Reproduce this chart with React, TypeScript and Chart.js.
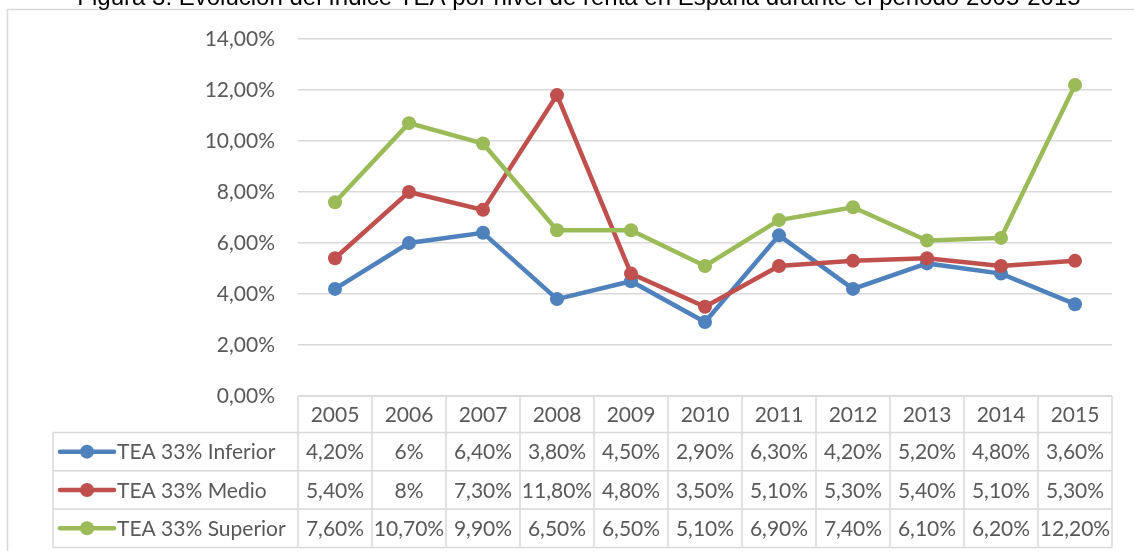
import React, { useEffect, useRef } from 'react';
import { Chart, registerables } from 'chart.js';

Chart.register(...registerables);

const titleText = 'Figura 3: Evolución del índice TEA por nivel de renta en España durante el periodo 2005-2015';
const years = ['2005', '2006', '2007', '2008', '2009', '2010', '2011', '2012', '2013', '2014', '2015'];
const inferior = [4.2, 6, 6.4, 3.8, 4.5, 2.9, 6.3, 4.2, 5.2, 4.8, 3.6];
const medio = [5.4, 8, 7.3, 11.8, 4.8, 3.5, 5.1, 5.3, 5.4, 5.1, 5.3];
const superior = [7.6, 10.7, 9.9, 6.5, 6.5, 5.1, 6.9, 7.4, 6.1, 6.2, 12.2];
const seriesNames = ['TEA 33% Inferior', 'TEA 33% Medio', 'TEA 33% Superior'];
const seriesValues = [inferior, medio, superior];
const seriesColors = ['#4F81BD', '#C0504D', '#9BBB59'];
const yMin = 0;
const yMax = 14;
const yStep = 2;

const TEXT_COLOR = '#595959';
const LINE_COLOR = '#D9D9D9';
const FONT = 'Lato, "Open Sans", sans-serif';
const FONT_SIZE = 21;

const fmtAxis = (v: number) => v.toFixed(2).replace('.', ',') + '%';
const fmtCell = (v: number) => (Number.isInteger(v) ? `${v}%` : v.toFixed(2).replace('.', ',') + '%');

const decorPlugin = {
  id: 'decor',
  beforeDraw(chart: any) {
    const ctx = chart.ctx;
    ctx.save();
    ctx.strokeStyle = LINE_COLOR;
    ctx.lineWidth = 1.5;
    ctx.beginPath();
    ctx.moveTo(7.5, chart.height + 2);
    ctx.lineTo(7.5, 9.5);
    ctx.lineTo(chart.width + 2, 9.5);
    ctx.stroke();
    ctx.restore();
  },
  afterDraw(chart: any) {
    const ctx = chart.ctx;
    const xs = chart.scales.x;
    const area = chart.chartArea;
    ctx.save();
    // title (partly cut off at top)
    ctx.fillStyle = '#000000';
    ctx.font = '24px "Liberation Sans", Arial, sans-serif';
    ctx.textAlign = 'center';
    ctx.textBaseline = 'alphabetic';
    ctx.fillText(titleText, 579, 4.5);

    // data table
    const step = xs.getPixelForTick(1) - xs.getPixelForTick(0);
    const half = step / 2;
    const left = xs.getPixelForTick(0) - half;
    const right = xs.getPixelForTick(years.length - 1) + half;
    const legendLeft = 53;
    const top = area.bottom;
    const headerH = 36.5;
    const rowH = 38.3;
    const rowTops = [top + headerH, top + headerH + rowH, top + headerH + 2 * rowH];
    const bottom = top + headerH + 3 * rowH;

    ctx.strokeStyle = LINE_COLOR;
    ctx.lineWidth = 1.5;
    ctx.beginPath();
    ctx.moveTo(left, top);
    ctx.lineTo(right, top);
    for (let r = 0; r <= 3; r++) {
      const y = top + headerH + r * rowH;
      ctx.moveTo(legendLeft, y);
      ctx.lineTo(right, y);
    }
    ctx.moveTo(legendLeft, top + headerH);
    ctx.lineTo(legendLeft, bottom);
    for (let i = 0; i <= years.length; i++) {
      const x = left + i * step;
      ctx.moveTo(x, top);
      ctx.lineTo(x, bottom);
    }
    ctx.stroke();

    ctx.fillStyle = TEXT_COLOR;
    ctx.font = `${FONT_SIZE}px ${FONT}`;
    ctx.textAlign = 'center';
    ctx.textBaseline = 'middle';
    years.forEach((yr, i) => {
      ctx.fillText(yr, xs.getPixelForTick(i), top + headerH / 2 + 1);
    });
    seriesValues.forEach((vals, s) => {
      const cy = rowTops[s] + rowH / 2 + 1;
      vals.forEach((v, i) => {
        ctx.fillText(fmtCell(v), xs.getPixelForTick(i), cy);
      });
    });

    // legend keys
    seriesNames.forEach((name, s) => {
      const cy = rowTops[s] + rowH / 2;
      ctx.strokeStyle = seriesColors[s];
      ctx.lineWidth = 4.5;
      ctx.lineCap = 'round';
      ctx.beginPath();
      ctx.moveTo(60, cy);
      ctx.lineTo(114, cy);
      ctx.stroke();
      ctx.fillStyle = seriesColors[s];
      ctx.beginPath();
      ctx.arc(87, cy, 7, 0, Math.PI * 2);
      ctx.fill();
      ctx.fillStyle = TEXT_COLOR;
      ctx.textAlign = 'left';
      ctx.fillText(name, 117, cy + 1);
    });
    ctx.restore();
  },
};

export default function App() {
  const ref = useRef<HTMLCanvasElement | null>(null);
  useEffect(() => {
    if (!ref.current) return;
    const chart = new Chart(ref.current, {
      type: 'line',
      data: {
        labels: years,
        datasets: seriesValues.map((vals, s) => ({
          label: seriesNames[s],
          data: vals,
          borderColor: seriesColors[s],
          backgroundColor: seriesColors[s],
          pointBackgroundColor: seriesColors[s],
          pointBorderWidth: 0,
          pointRadius: 7,
          pointHoverRadius: 7,
          borderWidth: 4.5,
          tension: 0,
          fill: false,
          order: 3 - s,
        })),
      },
      options: {
        responsive: false,
        animation: false,
        events: [],
        layout: { padding: { top: 39, right: 22, bottom: 155, left: 0 } },
        plugins: {
          legend: { display: false },
          title: { display: false },
          tooltip: { enabled: false },
        },
        scales: {
          x: {
            type: 'category',
            display: false,
            offset: true,
          },
          y: {
            min: yMin,
            max: yMax,
            afterFit(scale: any) {
              scale.width = 298;
            },
            ticks: {
              stepSize: yStep,
              padding: 23,
              color: TEXT_COLOR,
              font: { family: FONT, size: FONT_SIZE },
              callback: (v: any) => fmtAxis(Number(v)),
            },
            grid: { color: LINE_COLOR, lineWidth: 1.5, drawTicks: false },
            border: { display: false },
          },
        },
      },
      plugins: [decorPlugin],
    });
    return () => chart.destroy();
  }, []);
  return (
    <div style={{ position: 'absolute', left: 0, top: 0, width: 1134, height: 551, background: '#fff' }}>
      <canvas ref={ref} width={1134} height={551} style={{ width: 1134, height: 551, display: 'block' }} />
    </div>
  );
}
